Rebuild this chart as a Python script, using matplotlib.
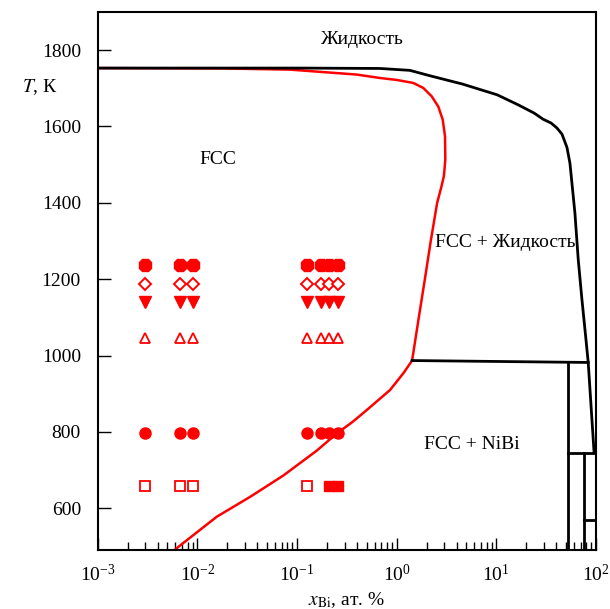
import numpy as np
import matplotlib.pyplot as plt

plt.rcParams['font.family'] = ['Liberation Serif', 'DejaVu Serif']
plt.rcParams['mathtext.fontset'] = 'stix'

# liquidus (black)
liq_x = [0.001, 0.107, 0.68, 1.36, 2.15, 4.6, 10.2, 16.5, 24.0, 29.5, 35.5,
         40.6, 45.6, 51.2, 54.8, 58.0, 61.5, 66.4, 72.3, 79.3, 83.6, 95.8]
liq_T = [1753, 1753, 1752, 1747, 1733, 1711, 1683, 1657, 1635, 1619, 1609,
         1596, 1580, 1545, 1504, 1440, 1373, 1251, 1147, 1043, 982, 745]

# solidus (red)
sol_x = [0.001, 0.018, 0.085, 0.398, 0.682, 1.0, 1.47, 1.85, 2.25, 2.62, 2.90,
         3.06, 3.08, 2.98, 2.80, 2.55, 2.20, 1.92, 1.67, 1.43]
sol_T = [1753, 1752, 1749, 1736, 1727, 1722, 1714, 1701, 1679, 1652, 1618,
         1574, 1513, 1470, 1440, 1400, 1300, 1200, 1100, 987]

# solvus (red)
slv_x = [1.43, 1.17, 0.86, 0.62, 0.50, 0.36, 0.251, 0.158, 0.0731, 0.0339,
         0.0157, 0.00646, 0.0059]
slv_T = [987, 954, 910, 878, 857, 826, 796, 751, 686, 630, 578, 499, 490]

# invariant lines
eut_x = [1.43, 83.6]
eut_T = [987, 982]
nibi_x = 52.8
nibi3_x = 76.4
T_745 = 745
T_570 = 570

# experimental points
cols = [0.003, 0.0067, 0.009, 0.127, 0.173, 0.211, 0.26]
T_hex = 1238
T_dia = 1187
T_tdn = 1141
T_tup = 1045
T_circ = 798
T_sq = 658
sq_open = [0.003, 0.0067, 0.009, 0.127]
sq_fill = [0.211, 0.26]

fig = plt.figure(figsize=(6.1, 6.09), dpi=100)
ax = fig.add_axes([0.16, 0.097, 0.817, 0.884])

ax.plot(sol_x, sol_T, color='red', lw=1.8)
ax.plot(slv_x, slv_T, color='red', lw=1.8)
ax.plot(liq_x, liq_T, color='black', lw=2)
ax.plot(eut_x, eut_T, color='black', lw=2)
ax.plot([nibi_x, nibi_x], [eut_T[1], 480], color='black', lw=2)
ax.plot([nibi_x, liq_x[-1]], [T_745, T_745], color='black', lw=2)
ax.plot([nibi3_x, nibi3_x], [T_745, 480], color='black', lw=2)
ax.plot([nibi3_x, 100], [T_570, T_570], color='black', lw=2)

n = len(cols)
ax.plot(cols, [T_hex] * n, '8', color='red', ms=10, ls='none')
ax.plot(cols, [T_dia] * n, 'D', mfc='white', mec='red', mew=1.4, ms=6.5, ls='none')
ax.plot(cols, [T_tdn] * n, 'v', color='red', ms=8, ls='none')
ax.plot(cols, [T_tup] * n, '^', mfc='white', mec='red', mew=1.3, ms=7.5, ls='none')
ax.plot(cols, [T_circ] * n, 'o', color='red', ms=8, ls='none')
ax.plot(sq_open, [T_sq] * len(sq_open), 's', mfc='white', mec='red', mew=1.3, ms=6.5, ls='none')
ax.plot(sq_fill, [T_sq] * len(sq_fill), 's', color='red', ms=7, ls='none')

ax.text(0.45, 1827, 'Жидкость', fontsize=14, ha='center', va='center')
ax.text(0.0162, 1513, 'FCC', fontsize=14, ha='center', va='center')
ax.text(12.2, 1295, 'FCC + Жидкость', fontsize=14, ha='center', va='center')
ax.text(5.7, 768, 'FCC + NiBi', fontsize=14, ha='center', va='center')

ax.set_xscale('log')
ax.set_xlim(1e-3, 1e2)
ax.set_ylim(491, 1901)
ax.set_yticks([600, 800, 1000, 1200, 1400, 1600, 1800])
ax.tick_params(axis='both', which='both', direction='in', top=False, right=False,
               labelsize=14)
ax.tick_params(which='major', length=9, width=1)
ax.tick_params(which='minor', length=5.5, width=1)
ax.tick_params(axis='x', pad=10)
ax.tick_params(axis='y', pad=12)
for s in ax.spines.values():
    s.set_linewidth(1.5)

ax.set_xlabel(r'$x_{\mathrm{Bi}}$, ат. %', fontsize=14, labelpad=4)
fig.text(0.065, 0.857, r'$T$, К', fontsize=14, ha='center', va='center')

fig.savefig('out.png', dpi=100)
